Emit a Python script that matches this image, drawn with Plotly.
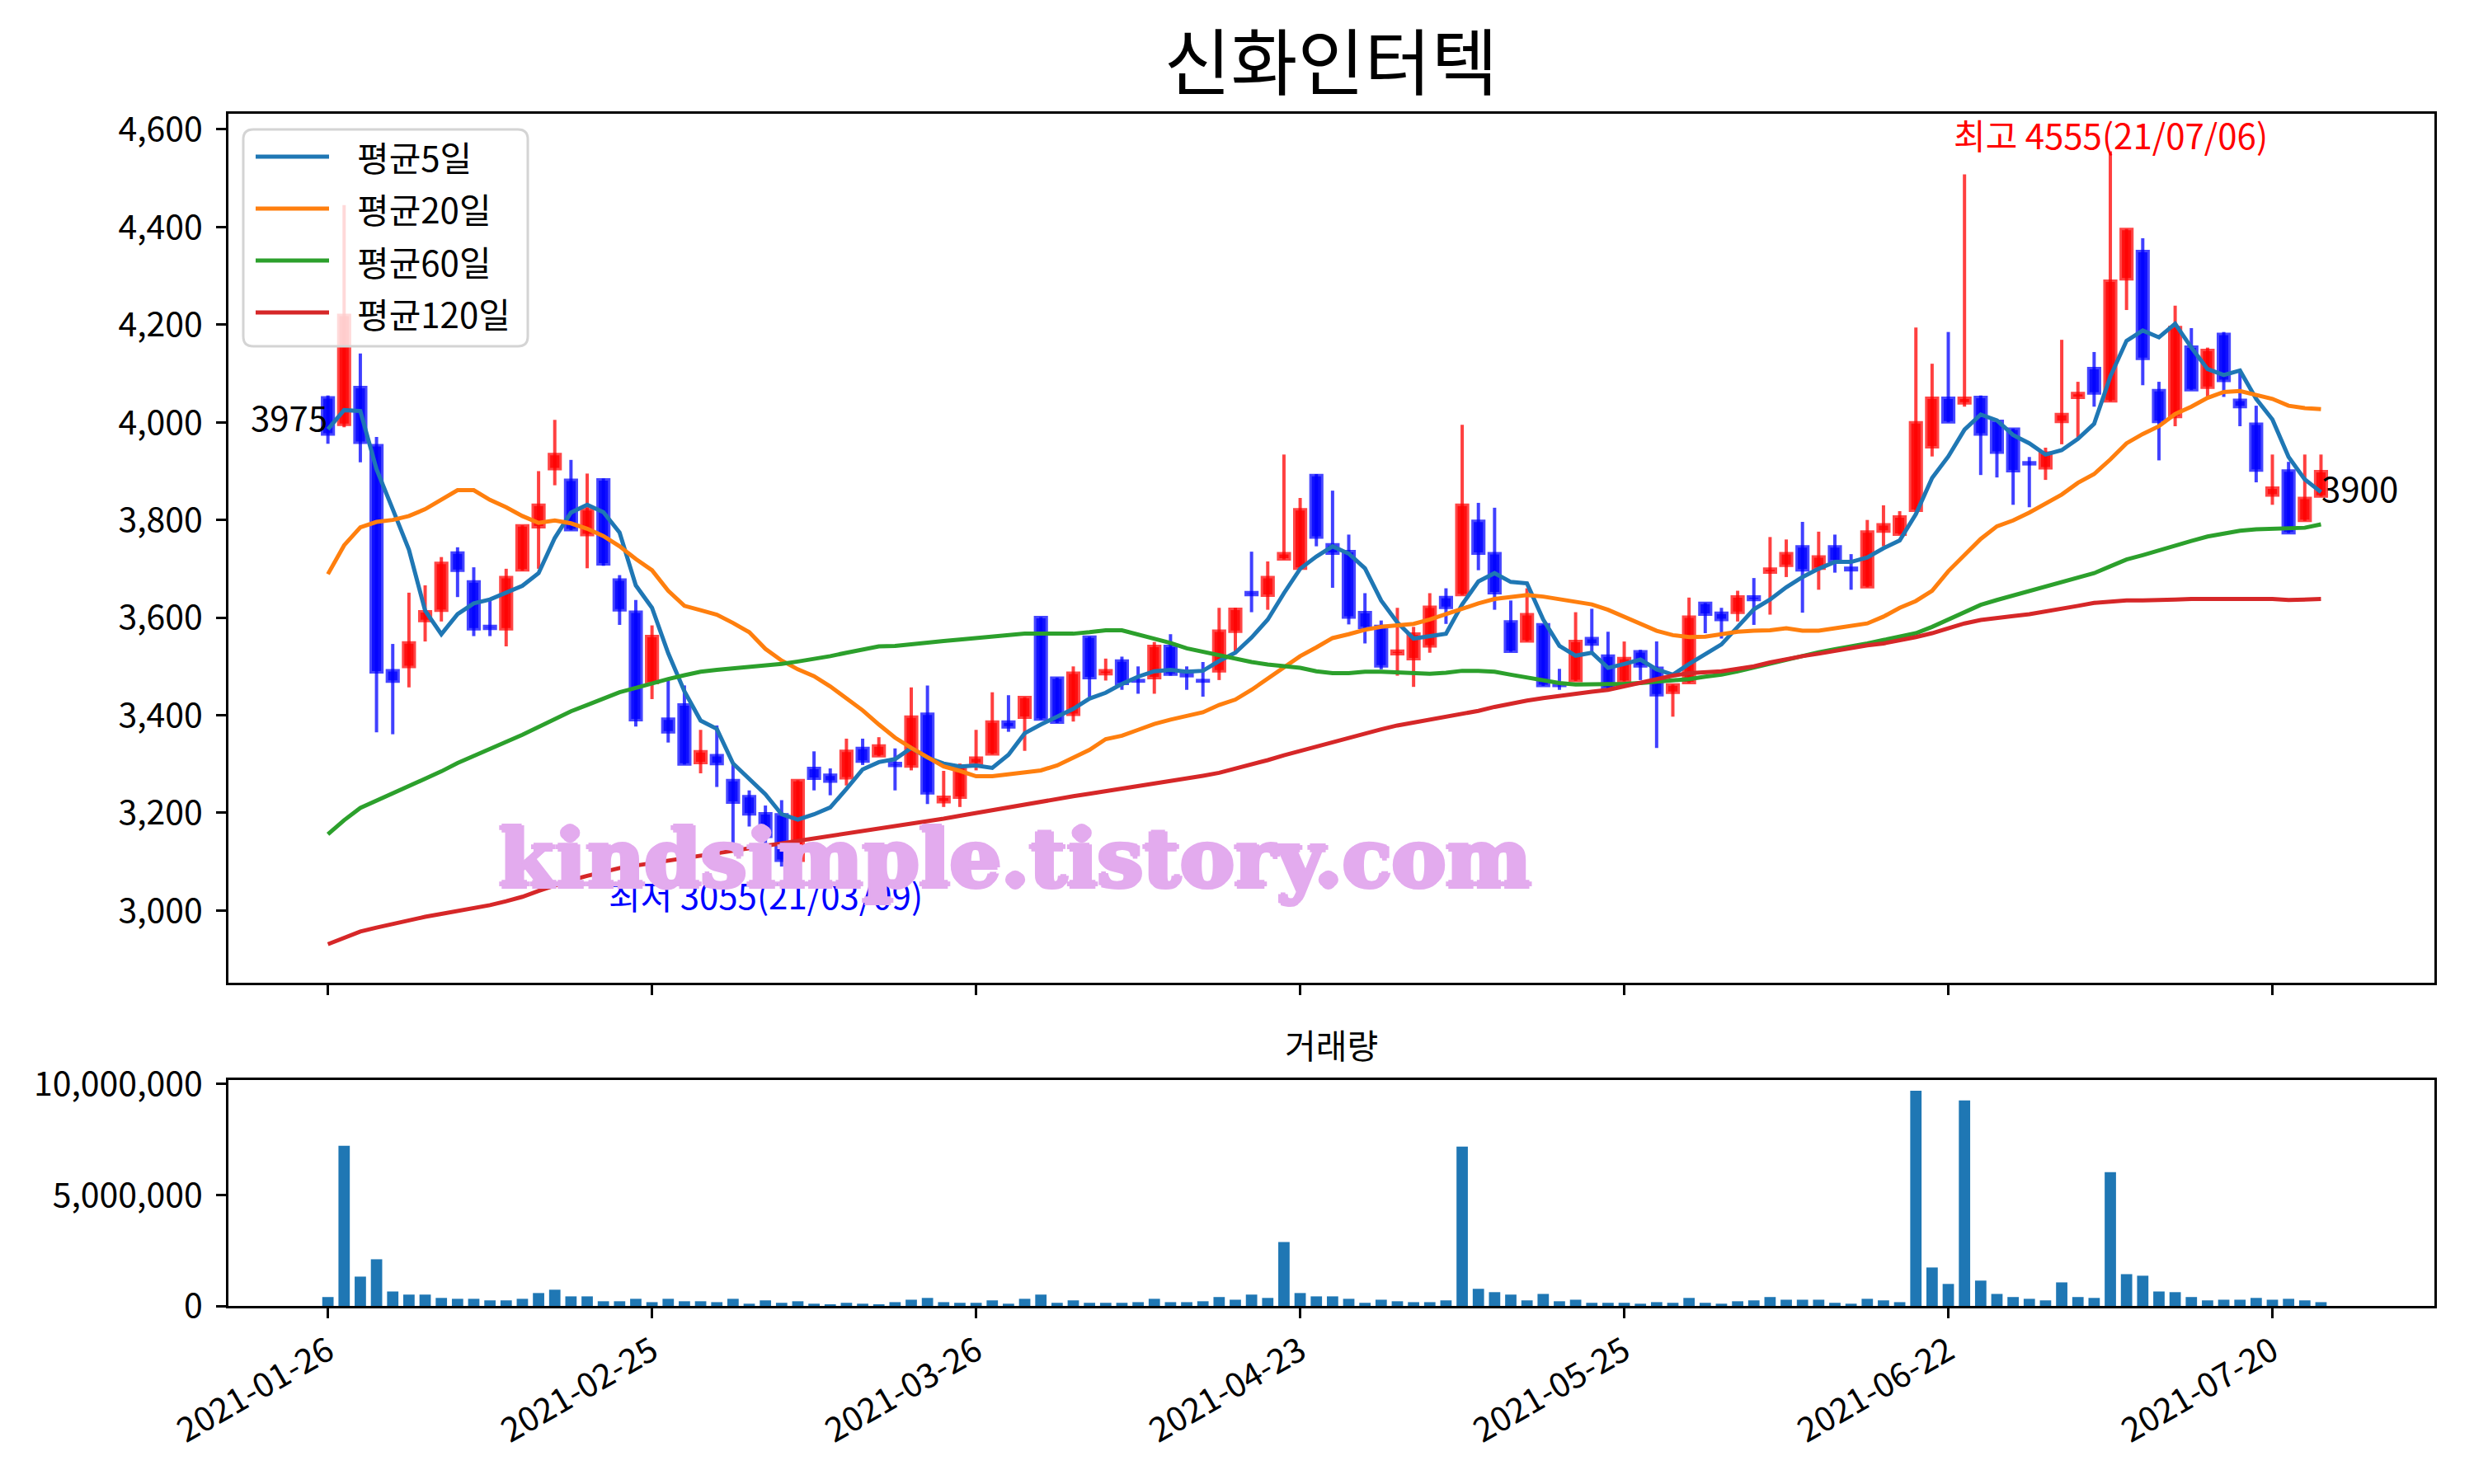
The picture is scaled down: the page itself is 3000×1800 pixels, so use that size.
import plotly.graph_objects as go

FONT = "Noto Sans CJK KR"

title = "신화인터텍"
tick_pos = [0, 20, 40, 60, 80, 100, 120]
tick_labels = ["2021-01-26", "2021-02-25", "2021-03-26", "2021-04-23",
               "2021-05-25", "2021-06-22", "2021-07-20"]
high_date = "21/07/06"
low_date = "21/03/09"

opens = [4051, 3995, 4072, 3953, 3492, 3499, 3593, 3614, 3733, 3674,
         3583, 3576, 3697, 3785, 3904, 3882, 3769, 3883, 3678, 3612,
         3466, 3393, 3422, 3302, 3318, 3267, 3234, 3199, 3197, 3102,
         3292, 3278, 3271, 3333, 3316, 3302, 3295, 3403, 3222, 3231,
         3301, 3320, 3387, 3395, 3601, 3477, 3401, 3561, 3484, 3512,
         3472, 3476, 3542, 3485, 3472, 3490, 3571, 3652, 3645, 3719,
         3700, 3892, 3750, 3736, 3611, 3583, 3525, 3515, 3541, 3642,
         3646, 3798, 3732, 3592, 3551, 3586, 3463, 3470, 3558, 3522,
         3469, 3531, 3497, 3446, 3466, 3630, 3610, 3610, 3643, 3692,
         3706, 3746, 3700, 3746, 3702, 3662, 3776, 3770, 3819, 3949,
         4050, 4039, 4052, 4003, 3987, 3918, 3906, 4001, 4050, 4111,
         4043, 4293, 4351, 4066, 4011, 4155, 4071, 4181, 4046, 3997,
         3850, 3901, 3798, 3848]
highs = [4055, 4445, 4141, 3970, 3546, 3651, 3666, 3724, 3744, 3703,
         3640, 3700, 3789, 3900, 4005, 3923, 3895, 3885, 3687, 3636,
         3584, 3473, 3461, 3370, 3379, 3299, 3246, 3215, 3226, 3267,
         3326, 3291, 3352, 3352, 3355, 3332, 3457, 3461, 3286, 3301,
         3370, 3447, 3441, 3437, 3601, 3477, 3500, 3561, 3516, 3520,
         3500, 3550, 3566, 3500, 3509, 3620, 3620, 3735, 3715, 3934,
         3845, 3894, 3860, 3770, 3650, 3594, 3620, 3581, 3650, 3660,
         3995, 3835, 3825, 3635, 3660, 3586, 3495, 3611, 3618, 3571,
         3551, 3534, 3551, 3463, 3641, 3630, 3620, 3655, 3681, 3765,
         3760, 3796, 3776, 3770, 3730, 3800, 3830, 3818, 4194, 4120,
         4185, 4508, 4055, 4006, 3987, 3929, 3948, 4169, 4083, 4144,
         4555, 4396, 4377, 4083, 4239, 4193, 4153, 4185, 4108, 4034,
         3934, 3919, 3934, 3934]
lows = [3956, 3990, 3918, 3365, 3361, 3457, 3551, 3592, 3642, 3562,
        3562, 3541, 3696, 3700, 3871, 3779, 3701, 3706, 3585, 3377,
        3433, 3344, 3299, 3281, 3253, 3137, 3172, 3055, 3090, 3095,
        3246, 3236, 3256, 3298, 3316, 3246, 3287, 3218, 3212, 3212,
        3287, 3320, 3366, 3327, 3391, 3384, 3387, 3437, 3471, 3452,
        3444, 3444, 3481, 3452, 3438, 3472, 3528, 3611, 3616, 3719,
        3700, 3746, 3661, 3586, 3547, 3494, 3481, 3458, 3528, 3587,
        3646, 3697, 3616, 3530, 3551, 3460, 3452, 3470, 3528, 3455,
        3469, 3472, 3333, 3397, 3466, 3568, 3557, 3592, 3585, 3606,
        3683, 3610, 3657, 3692, 3657, 3662, 3746, 3770, 3819, 3930,
        4000, 4032, 3892, 3887, 3831, 3826, 3882, 3955, 3969, 4032,
        4043, 4230, 4076, 3922, 3992, 4066, 4052, 4052, 3992, 3877,
        3831, 3773, 3798, 3848]
closes = [3975, 4220, 3958, 3488, 3469, 3549, 3613, 3712, 3696, 3576,
          3577, 3683, 3789, 3831, 3935, 3779, 3822, 3709, 3615, 3390,
          3562, 3365, 3299, 3326, 3300, 3221, 3197, 3151, 3102, 3267,
          3270, 3264, 3327, 3305, 3338, 3296, 3397, 3240, 3233, 3297,
          3313, 3387, 3375, 3437, 3391, 3385, 3487, 3476, 3492, 3464,
          3469, 3542, 3483, 3480, 3469, 3573, 3618, 3646, 3683, 3732,
          3822, 3764, 3731, 3600, 3579, 3500, 3532, 3567, 3622, 3620,
          3831, 3731, 3650, 3530, 3607, 3460, 3460, 3552, 3545, 3455,
          3517, 3500, 3441, 3463, 3602, 3606, 3595, 3643, 3636, 3700,
          3732, 3697, 3725, 3716, 3697, 3776, 3791, 3807, 4000, 4050,
          4000, 4050, 3975, 3938, 3900, 3914, 3938, 4017, 4060, 4059,
          4290, 4396, 4130, 4001, 4195, 4066, 4148, 4085, 4031, 3901,
          3866, 3773, 3845, 3900]
volumes = [400000, 7210000, 1320000, 2100000, 650000, 510000, 510000, 360000, 320000, 320000,
           250000, 250000, 320000, 580000, 730000, 430000, 430000, 210000, 210000, 320000,
           170000, 320000, 210000, 210000, 170000, 320000, 100000, 250000, 140000, 210000,
           100000, 60000, 140000, 100000, 60000, 170000, 280000, 360000, 170000, 140000,
           140000, 250000, 100000, 320000, 510000, 140000, 250000, 140000, 140000, 140000,
           170000, 320000, 170000, 170000, 210000, 400000, 280000, 510000, 360000, 2880000,
           580000, 430000, 430000, 320000, 140000, 280000, 210000, 170000, 170000, 250000,
           7170000, 770000, 620000, 510000, 250000, 540000, 210000, 280000, 140000, 140000,
           140000, 100000, 170000, 140000, 360000, 140000, 100000, 210000, 250000, 400000,
           280000, 280000, 280000, 140000, 100000, 320000, 250000, 170000, 9690000, 1730000,
           990000, 9250000, 1140000, 540000, 400000, 320000, 250000, 1060000, 400000, 360000,
           6020000, 1430000, 1360000, 650000, 620000, 400000, 250000, 280000, 280000, 360000,
           280000, 320000, 250000, 170000]
ma5 = [3986, 4025, 4023, 3904, 3822, 3739, 3614, 3566, 3607, 3629,
       3637, 3651, 3665, 3691, 3763, 3815, 3831, 3816, 3774, 3666,
       3620, 3527, 3449, 3389, 3372, 3301, 3270, 3238, 3197, 3186,
       3197, 3211, 3249, 3289, 3304, 3310, 3333, 3313, 3301, 3295,
       3297, 3292, 3319, 3363, 3381, 3396, 3413, 3434, 3446, 3464,
       3479, 3490, 3493, 3489, 3491, 3511, 3528, 3559, 3596, 3650,
       3700, 3725, 3746, 3731, 3701, 3635, 3590, 3557, 3562, 3567,
       3627, 3674, 3691, 3673, 3670, 3596, 3542, 3522, 3528, 3497,
       3505, 3514, 3494, 3483, 3505, 3525, 3545, 3581, 3617, 3637,
       3662, 3683, 3700, 3714, 3714, 3723, 3742, 3758, 3812, 3886,
       3930, 3985, 4016, 4004, 3974, 3957, 3934, 3943, 3966, 3997,
       4094, 4167, 4188, 4174, 4202, 4153, 4109, 4097, 4106, 4048,
       4006, 3929, 3883, 3857]
ma20 = [3689, 3748, 3785, 3796, 3800, 3808, 3822, 3841, 3861, 3861,
        3841, 3826, 3808, 3794, 3799, 3793, 3782, 3767, 3746, 3720,
        3697, 3655, 3624, 3615, 3606, 3589, 3570, 3536, 3512, 3494,
        3480, 3459, 3435, 3410, 3381, 3354, 3333, 3313, 3295, 3286,
        3275, 3275, 3279, 3283, 3287, 3297, 3313, 3329, 3351, 3358,
        3370, 3382, 3391, 3399, 3406, 3421, 3432, 3452, 3475, 3497,
        3521, 3539, 3558, 3566, 3575, 3581, 3584, 3587, 3596, 3607,
        3620, 3629, 3638, 3641, 3646, 3643, 3637, 3631, 3627, 3616,
        3601, 3587, 3573, 3564, 3560, 3561, 3566, 3571, 3573, 3574,
        3578, 3573, 3573, 3578, 3585, 3588, 3602, 3620, 3634, 3655,
        3695, 3727, 3761, 3787, 3799, 3815, 3833, 3852, 3876, 3894,
        3924, 3957, 3976, 3992, 4017, 4032, 4050, 4062, 4064, 4055,
        4048, 4034, 4029, 4027]
ma60 = [3156, 3185, 3210, 3225, 3240, 3254, 3268, 3285, 3302, 3316,
        3330, 3345, 3360, 3376, 3393, 3408, 3421, 3435, 3447, 3456,
        3466, 3474, 3482, 3489, 3493, 3496, 3499, 3501, 3505, 3510,
        3515, 3521, 3528, 3535, 3541, 3542, 3546, 3548, 3552, 3555,
        3558, 3561, 3565, 3567, 3567, 3566, 3567, 3570, 3574, 3574,
        3566, 3558, 3548, 3537, 3530, 3522, 3515, 3509, 3504, 3500,
        3497, 3490, 3486, 3486, 3489, 3489, 3487, 3486, 3485, 3487,
        3491, 3491, 3489, 3483, 3477, 3472, 3466, 3463, 3463, 3463,
        3464, 3466, 3468, 3470, 3474, 3479, 3483, 3490, 3498, 3506,
        3515, 3522, 3529, 3535, 3540, 3547, 3554, 3561, 3568, 3581,
        3596, 3612, 3626, 3636, 3645, 3654, 3663, 3672, 3680, 3691,
        3705, 3719, 3728, 3738, 3749, 3757, 3766, 3773, 3778, 3781,
        3782, 3782, 3784, 3791]
ma120 = [2931, 2945, 2957, 2965, 2973, 2981, 2987, 2993, 2999, 3004,
         3011, 3019, 3028, 3040, 3052, 3062, 3071, 3079, 3087, 3092,
         3097, 3102, 3107, 3112, 3117, 3122, 3127, 3132, 3137, 3142,
         3147, 3152, 3157, 3161, 3166, 3171, 3176, 3182, 3188, 3194,
         3200, 3206, 3212, 3218, 3224, 3229, 3234, 3239, 3244, 3250,
         3256, 3261, 3266, 3271, 3276, 3282, 3290, 3299, 3308, 3318,
         3327, 3337, 3346, 3355, 3363, 3371, 3379, 3385, 3391, 3396,
         3401, 3409, 3417, 3424, 3430, 3435, 3440, 3444, 3448, 3452,
         3459, 3467, 3475, 3481, 3486, 3488, 3490, 3495, 3500, 3508,
         3515, 3521, 3526, 3532, 3538, 3543, 3547, 3553, 3560, 3568,
         3578, 3588, 3595, 3600, 3603, 3607, 3612, 3617, 3624, 3630,
         3633, 3635, 3635, 3635, 3637, 3638, 3638, 3640, 3640, 3640,
         3638, 3636, 3636, 3638]

ma_names = ["평균5일", "평균20일", "평균60일", "평균120일"]
ma_colors = ["#1f77b4", "#ff7f0e", "#2ca02c", "#d62728"]

W, H = 3000, 1800
idx = list(range(len(closes)))
up = [i for i in idx if closes[i] >= opens[i]]
down = [i for i in idx if closes[i] < opens[i]]

fig = go.Figure()


def add_candles(sel, wick_color, body_color, edge_color):
    xs, ys = [], []
    for i in sel:
        xs += [i, i, None]
        ys += [lows[i], highs[i], None]
    fig.add_trace(go.Scatter(x=xs, y=ys, mode="lines", line=dict(color=wick_color, width=4),
                             showlegend=False, hoverinfo="skip"))
    fig.add_trace(go.Bar(x=sel, y=[abs(closes[i] - opens[i]) for i in sel],
                         base=[min(opens[i], closes[i]) for i in sel], width=0.72,
                         marker=dict(color=body_color, line=dict(color=edge_color, width=3)),
                         showlegend=False))


add_candles(up, "rgba(255,0,0,0.75)", "rgb(255,16,16)", "rgb(255,70,70)")
add_candles(down, "rgba(0,0,255,0.75)", "rgb(16,16,255)", "rgb(70,70,255)")

for name, vals, color in zip(ma_names, [ma5, ma20, ma60, ma120], ma_colors):
    fig.add_trace(go.Scatter(x=idx, y=vals, mode="lines", name=name, showlegend=False,
                             line=dict(color=color, width=5)))

fig.add_trace(go.Bar(x=idx, y=volumes, width=0.7, marker=dict(color="#1f77b4", line=dict(width=0)),
                     xaxis="x2", yaxis="y2", showlegend=False))

i_hi = highs.index(max(highs))
i_lo = lows.index(min(lows))
txt = dict(family=FONT, size=42)
annotations = [
    dict(x=i_hi, y=highs[i_hi], xref="x", yref="y", text=f"최고 {highs[i_hi]}({high_date})",
         showarrow=False, xanchor="center", yanchor="bottom", font=dict(txt, color="red"),
         borderpad=0, yshift=-10),
    dict(x=i_lo, y=lows[i_lo], xref="x", yref="y", text=f"최저 {lows[i_lo]}({low_date})",
         showarrow=False, xanchor="center", yanchor="top", font=dict(txt, color="blue"),
         borderpad=0, yshift=19),
    dict(x=0, y=closes[0], xref="x", yref="y", text=str(closes[0]), showarrow=False,
         xanchor="right", yanchor="bottom", font=dict(txt, color="black"), borderpad=0, yshift=-9),
    dict(x=idx[-1], y=closes[-1], xref="x", yref="y", text=str(closes[-1]), showarrow=False,
         xanchor="left", yanchor="top", font=dict(txt, color="black"), borderpad=0, yshift=12),
    dict(x=0.538, y=0.2967, xref="paper", yref="paper", text="거래량", showarrow=False,
         xanchor="center", yanchor="middle", font=dict(family=FONT, size=41, color="black")),
    dict(x=0.4103, y=0.4218, xref="paper", yref="paper", text="<b>kindsimple.tistory.com</b>",
         showarrow=False, xanchor="center", yanchor="middle",
         font=dict(family="DejaVu Serif", size=98, color="#E3ABEE",
                   shadow="3px 0 0 #E3ABEE, -3px 0 0 #E3ABEE, 0 3px 0 #E3ABEE, 0 -2px 0 #E3ABEE")),
]

# legend box drawn in the matplotlib style: long line samples, rounded frame
shapes = []
bx0, bx1, by0, by1, rad = 295, 640, 157, 420, 12


def px(x):
    return x / W


def py(y):
    return 1 - y / H


frame = (f"M{px(bx0 + rad)},{py(by0)} L{px(bx1 - rad)},{py(by0)} "
         f"Q{px(bx1)},{py(by0)} {px(bx1)},{py(by0 + rad)} "
         f"L{px(bx1)},{py(by1 - rad)} Q{px(bx1)},{py(by1)} {px(bx1 - rad)},{py(by1)} "
         f"L{px(bx0 + rad)},{py(by1)} Q{px(bx0)},{py(by1)} {px(bx0)},{py(by1 - rad)} "
         f"L{px(bx0)},{py(by0 + rad)} Q{px(bx0)},{py(by0)} {px(bx0 + rad)},{py(by0)} Z")
shapes.append(dict(type="path", path=frame, xref="paper", yref="paper", layer="above",
                   fillcolor="rgba(255,255,255,0.8)", line=dict(color="#d4d4d4", width=3)))
for k, (name, color) in enumerate(zip(ma_names, ma_colors)):
    ly = 190 + 63 * k
    shapes.append(dict(type="line", xref="paper", yref="paper", layer="above",
                       x0=px(310), x1=px(399), y0=py(ly), y1=py(ly),
                       line=dict(color=color, width=5)))
    annotations.append(dict(x=px(431), y=py(ly), xref="paper", yref="paper", text=name,
                            showarrow=False, xanchor="left", yanchor="middle",
                            font=dict(family=FONT, size=42, color="black")))

axis_style = dict(showgrid=False, zeroline=False, showline=True, linecolor="black", linewidth=3,
                  mirror=True, ticks="outside", ticklen=12, tickwidth=3, tickcolor="black",
                  automargin=False, tickfont=dict(family=FONT, size=41, color="black"))
xdom = [277 / W, 2952 / W]
xrange = [-6.14, 130.0]

fig.update_layout(
    width=W, height=H, autosize=False,
    margin=dict(l=0, r=0, t=0, b=0),
    paper_bgcolor="white", plot_bgcolor="white",
    barmode="overlay",
    title=dict(text=title, x=0.538, y=0.957, xanchor="center", yanchor="middle",
               font=dict(family=FONT, size=88, color="black")),
    xaxis=dict(axis_style, domain=xdom, range=xrange, tickvals=tick_pos, showticklabels=False,
               anchor="y"),
    yaxis=dict(axis_style, domain=[1 - 1192 / H, 1 - 138 / H], range=[2852, 4632],
               tickvals=list(range(3000, 4601, 200)), tickformat=",d", anchor="x",
               ticklabelstandoff=8),
    xaxis2=dict(axis_style, domain=xdom, range=xrange, tickvals=tick_pos, ticktext=tick_labels,
                tickangle=-30, anchor="y2"),
    yaxis2=dict(axis_style, domain=[1 - 1584 / H, 1 - 1310 / H], range=[0, 10170000],
                tickvals=[0, 5000000, 10000000], tickformat=",d", anchor="x2",
                ticklabelstandoff=8),
    annotations=annotations,
    shapes=shapes,
    showlegend=False,
)

fig.write_html("out.html", config={"displayModeBar": False},
               post_script="document.body.style.margin='0';")
